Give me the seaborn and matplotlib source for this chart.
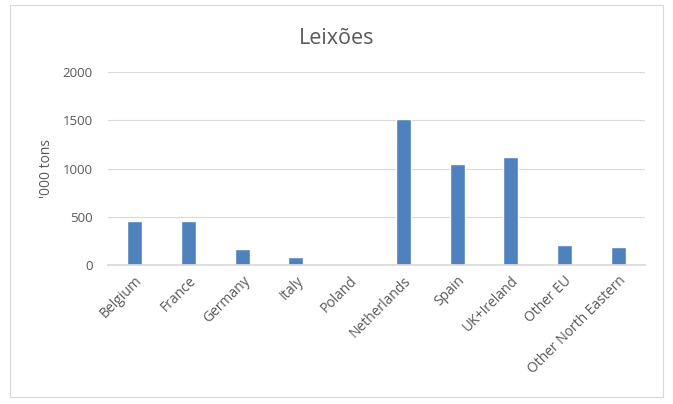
import pandas as pd
import matplotlib
matplotlib.use("Agg")
import matplotlib.pyplot as plt
import matplotlib.patches as mpatches
import seaborn as sns

countries = ["Belgium", "France", "Germany", "Italy", "Poland", "Netherlands",
             "Spain", "UK+Ireland", "Other EU", "Other North Eastern"]
tons = [457, 457, 163, 80, 0, 1517, 1050, 1122, 205, 187]
y_ticks = [0, 500, 1000, 1500, 2000]


def main():
    df = pd.DataFrame({"Country": countries, "Tons": tons})

    sns.set_theme(style="white")
    plt.rcParams["font.family"] = ["Open Sans", "DejaVu Sans"]

    fig = plt.figure(figsize=(6.73, 4.04), dpi=100)
    ax = fig.add_axes([108 / 673, 1 - 265 / 404, 537 / 673, 193 / 404])

    sns.barplot(data=df, x="Country", y="Tons", color="#4F81BD", width=0.28,
                saturation=1, ax=ax)

    ax.set_ylim(0, 2000)
    ax.set_yticks(y_ticks)
    ax.yaxis.grid(True, color="#D9D9D9", linewidth=0.8)
    ax.set_axisbelow(True)
    for side in ["top", "right", "left"]:
        ax.spines[side].set_visible(False)
    ax.spines["bottom"].set_color("#D9D9D9")

    ax.tick_params(axis="both", length=0, colors="#595959", labelsize=9.5)
    ax.tick_params(axis="y", pad=11)
    ax.tick_params(axis="x", pad=6)
    plt.setp(ax.get_xticklabels(), rotation=45, ha="right", rotation_mode="anchor",
             fontsize=10)

    ax.set_xlabel("")
    ax.set_ylabel("'000 tons", color="#595959", fontsize=10, labelpad=6)
    fig.text(0.5, 1 - 38 / 404, "Leix\u00f5es", ha="center", va="center",
             fontsize=15.5, color="#595959")

    border = mpatches.Rectangle((10 / 673, 1 - 397 / 404), 653 / 673, 392 / 404,
                                transform=fig.transFigure, fill=False,
                                edgecolor="#D9D9D9", linewidth=0.8)
    fig.add_artist(border)

    fig.savefig("out.png", dpi=100)


if __name__ == "__main__":
    main()
